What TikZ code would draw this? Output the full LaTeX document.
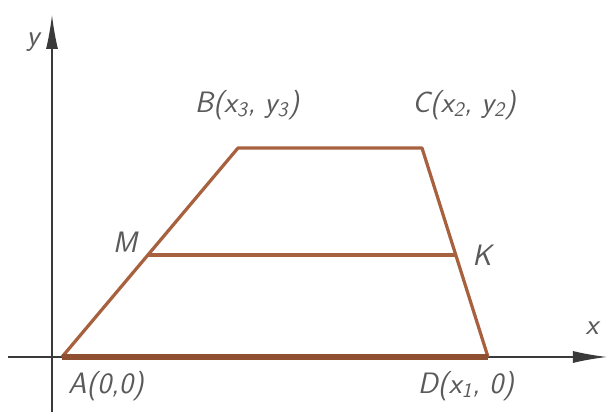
\documentclass[tikz,border=0pt]{standalone}
\usepackage{xcolor}
\usepackage{tikz}
\usetikzlibrary{arrows.meta}
\definecolor{trbrown}{HTML}{A8613F}
\definecolor{trdark}{HTML}{8E5030}
\definecolor{axgray}{HTML}{3A3A3A}
\definecolor{lbgray}{HTML}{5A5A5A}

\begin{document}
\begin{tikzpicture}[x=0.025cm, y=0.025cm,
    axis/.style={draw=axgray, line width=0.9pt, -{Latex[length=0.85cm, width=0.3cm]}},
    trap/.style={draw=trbrown, line width=2.3pt, line join=round},
    lbl/.style={text=lbgray, font=\fontsize{21}{23}\selectfont\sffamily\slshape, inner sep=1pt}]
  \useasboundingbox (0,0) rectangle (607,412);
  \coordinate (O) at (52,55);
  \coordinate (xs) at (8,55);
  \coordinate (xe) at (607,55);
  \coordinate (ys) at (52,0);
  \coordinate (ye) at (52,397);
  \coordinate (A) at (62,55);
  \coordinate (B) at (238,264);
  \coordinate (C) at (422,264);
  \coordinate (D) at (488,55);
  \coordinate (M) at (148,157);
  \coordinate (K) at (456,157);
  \draw[axis] (xs) -- (xe);
  \draw[axis] (ys) -- (ye);
  \draw[trap] (A) -- (B) -- (C) -- (D);
  \draw[trap] (M) -- (K);
  \draw[draw=trdark, line width=3.6pt] (A) -- (D);
  \node[lbl] (ly) at (33,370) {y};
  \node[lbl] (lx) at (592,84) {x};
  \node[lbl] (lB) at (247,307) {B(x\textsubscript{3}, y\textsubscript{3})};
  \node[lbl] (lC) at (464,307) {C(x\textsubscript{2}, y\textsubscript{2})};
  \node[lbl] (lM) at (125,170) {M};
  \node[lbl] (lK) at (482,157) {K};
  \node[lbl] (lA) at (106,26) {A(0,0)};
  \node[lbl] (lD) at (466,26) {D(x\textsubscript{1}, 0)};
\end{tikzpicture}
\end{document}
